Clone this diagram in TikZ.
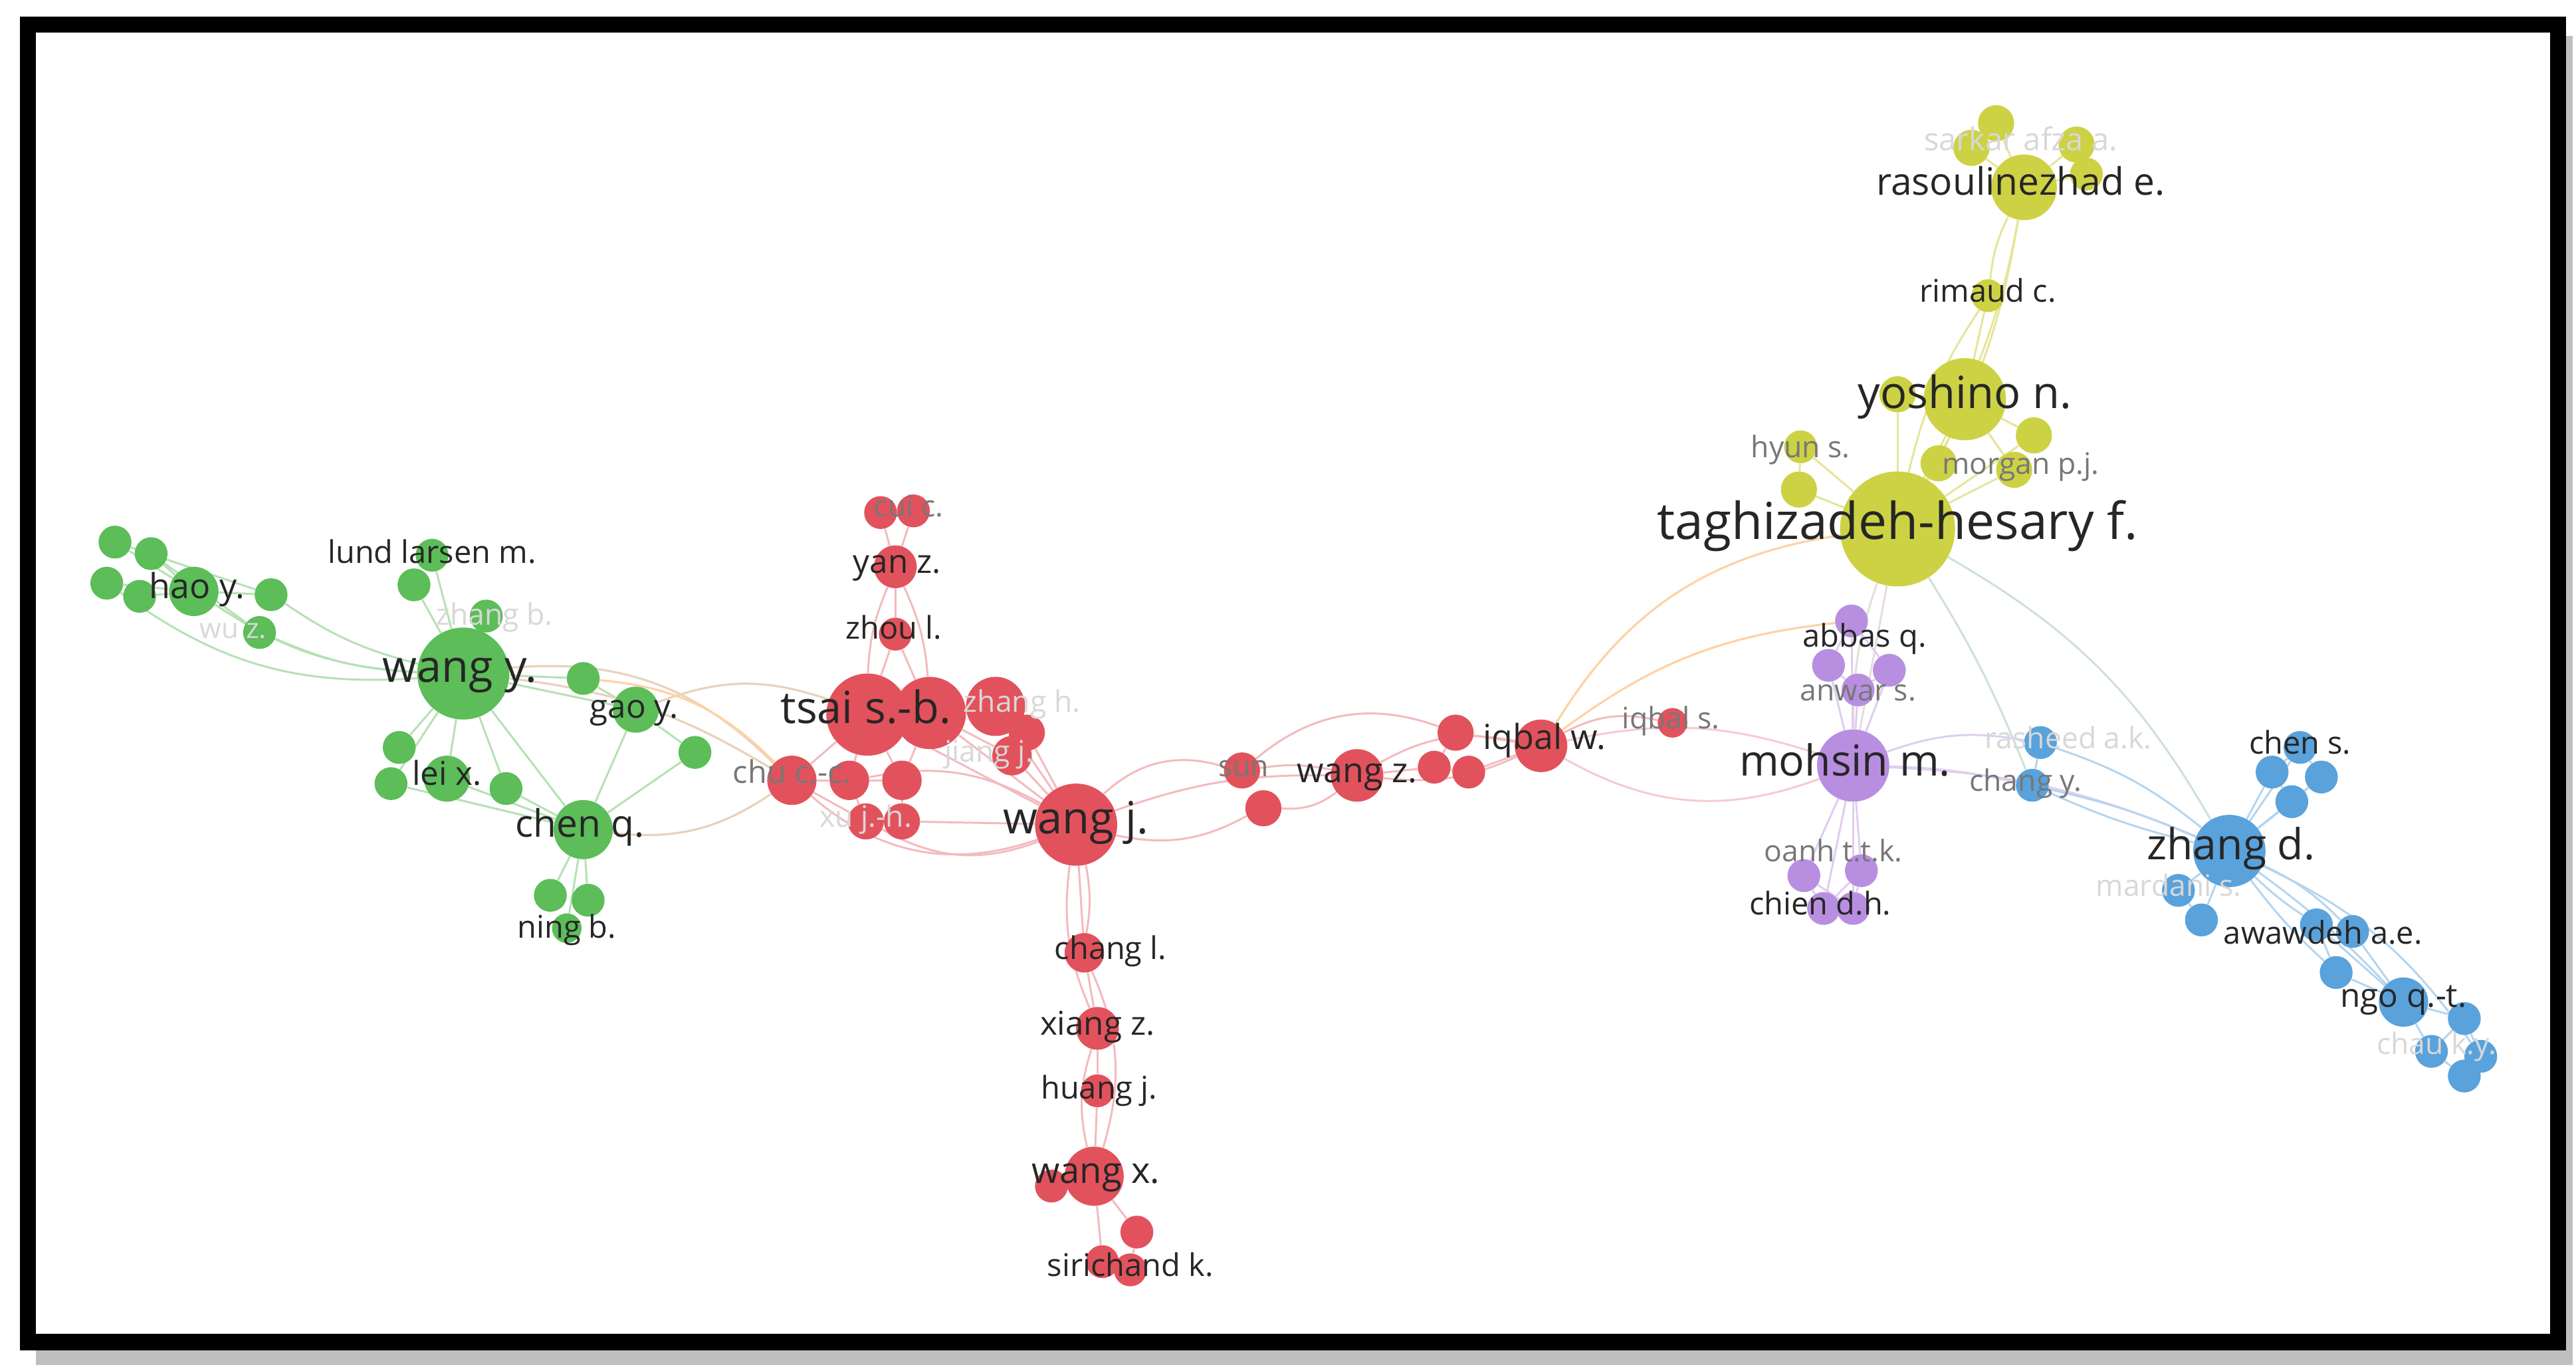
\documentclass[tikz,border=0pt]{standalone}
\usepackage{fontspec}
\setmainfont{Open Sans}
\usetikzlibrary{backgrounds}
\definecolor{cg}{HTML}{5CBD59}
\definecolor{cr}{HTML}{E2525C}
\definecolor{cy}{HTML}{CDD244}
\definecolor{cp}{HTML}{B88FE0}
\definecolor{cb}{HTML}{5AA2DB}
\definecolor{fg}{HTML}{777777}
\definecolor{ff}{HTML}{D8D8D8}
\tikzset{
 dot/.style={circle,inner sep=0pt,draw=none,fill=#1},
 lab/.style={inner sep=0pt,text=black!85},
 grey/.style={lab,text=fg},
 faint/.style={lab,text=ff},
 eg/.style={draw=cg!45,line width=1.2pt},
 er/.style={draw=cr!40,line width=1.2pt},
 ey/.style={draw=cy!55,line width=1.2pt},
 ep/.style={draw=cp!45,line width=1.2pt},
 eb/.style={draw=cb!45,line width=1.2pt},
 eo/.style={draw=orange!35,line width=1.3pt},
 ebr/.style={draw=brown!35,line width=1.3pt},
}
\newcommand\au[5]{\node[dot=#5,minimum size=#4*2pt] (#1) at (#2,#3) {};}
\newcommand\tx[5]{\node[#5,font=\fontsize{#4}{#4}\selectfont] (#1) at (#2,#3) {\strut\smash{#1}};}
\begin{document}
\begin{tikzpicture}[x=1pt,y=-1pt]
\useasboundingbox (0,0) rectangle (1568,833);
\begin{pgfonlayer}{background}
\fill[white] (0,0) rectangle (1568,833);
\fill[black!25] (22,22) rectangle (1566,831);
\draw[line width=10pt,fill=white] (17,15) rectangle (1557,817);
\end{pgfonlayer}
% ---------- nodes
% green
\au{g1}{70}{330}{10}{cg}\au{g2}{92}{337}{10}{cg}\au{g3}{65}{355}{10}{cg}\au{g4}{85}{363}{10}{cg}
\au{haoy}{118}{360}{15}{cg}\au{g5}{165}{362}{10}{cg}\au{wuz}{158}{385}{10}{cg}
\au{lund}{263}{338}{10}{cg}\au{g6}{252}{356}{10}{cg}\au{zhangb}{296}{375}{10}{cg}
\au{wangy}{282}{410}{28}{cg}\au{g7}{355}{413}{10}{cg}\au{gaoy}{387}{432}{14}{cg}\au{g8}{423}{458}{10}{cg}
\au{g9}{243}{455}{10}{cg}\au{g10}{238}{477}{10}{cg}\au{leix}{272}{474}{14}{cg}\au{g11}{308}{480}{10}{cg}
\au{chenq}{355}{505}{18}{cg}\au{g12}{335}{545}{10}{cg}\au{g13}{358}{548}{10}{cg}\au{ningb}{345}{565}{9}{cg}
% red
\au{cui1}{536}{312}{10}{cr}\au{cuic}{556}{311}{10}{cr}\au{yanz}{545}{345}{13}{cr}\au{zhoul}{545}{386}{10}{cr}
\au{tsai}{528}{435}{25}{cr}\au{r1}{566}{434}{22}{cr}\au{zhangh}{606}{430}{18}{cr}\au{r2}{625}{446}{11}{cr}
\au{jiangj}{616}{460}{12}{cr}\au{chucc}{482}{475}{15}{cr}\au{r3}{517}{475}{12}{cr}\au{r4}{549}{475}{12}{cr}
\au{xujh}{527}{500}{11}{cr}\au{r5}{549}{500}{11}{cr}
\au{wangj}{655}{502}{25}{cr}\au{sun}{756}{469}{11}{cr}\au{r6}{769}{492}{11}{cr}\au{wangz}{826}{472}{16}{cr}
\au{r7}{886}{446}{11}{cr}\au{r8}{873}{467}{10}{cr}\au{r9}{894}{470}{10}{cr}\au{iqbalw}{938}{454}{16}{cr}\au{iqbals}{1018}{440}{9}{cr}
\au{changl}{660}{580}{12}{cr}\au{xiangz}{668}{626}{13}{cr}\au{huangj}{668}{664}{10}{cr}\au{wangx}{666}{716}{18}{cr}
\au{r10}{640}{722}{10}{cr}\au{r11}{692}{750}{10}{cr}\au{r12}{671}{768}{10}{cr}\au{sirichand}{688}{773}{10}{cr}
% yellow
\au{y1}{1215}{75}{11}{cy}\au{y2}{1200}{90}{11}{cy}\au{y3}{1264}{88}{11}{cy}\au{y4}{1270}{106}{10}{cy}
\au{raso}{1232}{114}{20}{cy}\au{rimaud}{1210}{180}{10}{cy}
\au{yosh}{1196}{243}{25}{cy}\au{y5}{1155}{240}{11}{cy}\au{y6}{1238}{265}{11}{cy}\au{morgan}{1226}{286}{11}{cy}\au{y7}{1180}{282}{11}{cy}
\au{hyun}{1096}{272}{10}{cy}\au{y8}{1095}{298}{11}{cy}
\au{tagh}{1155}{322}{35}{cy}
% purple
\au{abbas}{1127}{378}{10}{cp}\au{p1}{1113}{405}{10}{cp}\au{p2}{1150}{408}{10}{cp}\au{anwar}{1131}{420}{10}{cp}
\au{mohsin}{1128}{466}{22}{cp}
\au{oanh}{1098}{533}{10}{cp}\au{p3}{1133}{530}{10}{cp}\au{chien}{1110}{553}{10}{cp}\au{p4}{1128}{553}{10}{cp}
% blue
\au{rasheed}{1242}{452}{10}{cb}\au{changy}{1237}{478}{10}{cb}
\au{chens}{1400}{455}{10}{cb}\au{b1}{1383}{470}{10}{cb}\au{b2}{1413}{473}{10}{cb}\au{b3}{1395}{488}{10}{cb}
\au{zhangd}{1357}{518}{22}{cb}\au{mard}{1326}{542}{10}{cb}\au{b4}{1340}{560}{10}{cb}
\au{awa}{1410}{563}{10}{cb}\au{b5}{1432}{567}{10}{cb}\au{b6}{1422}{592}{10}{cb}\au{ngo}{1463}{610}{15}{cb}
\au{b7}{1500}{620}{10}{cb}\au{chau}{1480}{640}{10}{cb}\au{b8}{1510}{643}{10}{cb}\au{b9}{1500}{655}{10}{cb}
% ---------- edges
\begin{pgfonlayer}{background}
\foreach \a/\b in {g1/haoy,g2/haoy,g3/haoy,g4/haoy,g5/haoy,wuz/haoy,g1/g5,g2/wuz,lund/wangy,g6/wangy,zhangb/wangy,g7/wangy,gaoy/wangy,g8/gaoy,g9/wangy,g10/wangy,leix/wangy,g11/wangy,chenq/wangy,leix/chenq,g10/chenq,g11/chenq,g12/chenq,g13/chenq,ningb/chenq,gaoy/chenq,g8/chenq,g7/gaoy}
  \path[eg] (\a) -- (\b);
\path[eg] (haoy) to[bend right=15] (wangy);
\path[eg] (g5) to[bend right=10] (wangy);
\path[eg] (wuz) to[bend right=10] (wangy);
\path[eg] (g3) to[bend right=20] (wangy);
\path[ebr] (wangy) to[bend left=25] (chucc);
\path[ebr] (wangy) to[bend left=12] (chucc);
\path[ebr] (chenq) to[bend right=20] (chucc);
\path[ebr] (gaoy) to[bend left=20] (tsai);
\path[eo] (g7) to[bend left=20] (chucc);
\foreach \a/\b in {cui1/yanz,cuic/yanz,yanz/zhoul,zhoul/tsai,zhoul/r1,tsai/r1,r1/zhangh,zhangh/r2,tsai/chucc,tsai/r3,tsai/r4,r1/r4,r1/jiangj,r3/xujh,r4/r5,chucc/r3,r3/r4,tsai/wangj,r1/wangj,zhangh/wangj,jiangj/wangj,r2/wangj,r5/wangj,wangj/changl,r8/r7,r8/r9,r7/iqbalw,r9/iqbalw,wangz/r8,changl/xiangz,xiangz/huangj,huangj/wangx,wangx/r10,wangx/r11,wangx/r12,r11/sirichand,r12/sirichand,chucc/xujh}
  \path[er] (\a) -- (\b);
\path[er] (yanz) to[bend right=10] (tsai);
\path[er] (yanz) to[bend left=10] (r1);
\path[er] (chucc) to[bend right=30] (wangj);
\path[er] (xujh) to[bend right=25] (wangj);
\path[er] (r3) to[bend left=20] (wangj);
\path[er] (wangj) to[bend left=30] (sun);
\path[er] (wangj) to[bend right=20] (r6);
\path[er] (wangj) to[bend left=10] (wangz);
\path[er] (sun) to[bend left=10] (wangz);
\path[er] (r6) to[bend right=20] (wangz);
\path[er] (sun) to[bend left=30] (r7);
\path[er] (wangz) to[bend left=20] (iqbalw);
\path[er] (wangz) to[bend right=15] (iqbalw);
\path[er] (iqbalw) to[bend left=20] (iqbals);
\path[er] (wangj) to[bend left=10] (changl);
\path[er] (wangj) to[bend right=15] (xiangz);
\path[er] (changl) to[bend left=20] (wangx);
\path[er] (xiangz) to[bend right=15] (wangx);
\path[draw=cr!30,line width=1.2pt] (iqbalw) to[bend right=25] (mohsin);
\path[draw=cr!30,line width=1.2pt] (iqbalw) to[bend left=15] (mohsin);
\path[eo] (iqbalw) to[bend left=25] (tagh);
\path[eo] (iqbalw) to[bend left=15] (abbas);
\foreach \a/\b in {y1/raso,y2/raso,y3/raso,y4/raso,y1/y2,rimaud/yosh,y5/yosh,y6/yosh,morgan/yosh,y7/yosh,yosh/tagh,y5/tagh,y6/tagh,morgan/tagh,y7/tagh,hyun/tagh,y8/tagh,hyun/y8}
  \path[ey] (\a) -- (\b);
\path[ey] (raso) to[bend right=10] (rimaud);
\path[ey] (raso) to[bend left=5] (yosh);
\path[ey] (raso) to[bend left=10] (tagh);
\path[ey] (rimaud) to[bend right=10] (tagh);
\path[draw=cy!40!cb!40,line width=1.2pt] (tagh) to[bend left=15] (zhangd);
\path[draw=cy!40!cb!40,line width=1.2pt] (tagh) to[bend left=5] (changy);
\path[draw=cy!40!cp!40,line width=1.2pt] (tagh) -- (mohsin);
\path[draw=cy!40!cp!40,line width=1.2pt] (tagh) to[bend right=10] (mohsin);
\foreach \a/\b in {abbas/p1,abbas/p2,p1/anwar,p2/anwar,abbas/mohsin,p1/mohsin,p2/mohsin,anwar/mohsin,mohsin/oanh,mohsin/p3,mohsin/chien,mohsin/p4,oanh/p4,p3/chien,oanh/chien,p3/p4}
  \path[ep] (\a) -- (\b);
\path[ep] (mohsin) to[bend left=15] (rasheed);
\path[ep] (mohsin) to[bend left=5] (changy);
\path[ep] (mohsin) to[bend left=10] (zhangd);
\foreach \a/\b in {rasheed/changy,chens/b1,chens/b2,b1/b3,b2/b3,b1/zhangd,b3/zhangd,b2/zhangd,chens/zhangd,mard/zhangd,b4/zhangd,mard/b4,awa/b6,b5/ngo,b6/ngo,awa/ngo,b7/ngo,chau/ngo,b8/b7,b9/chau,b8/b9,chau/b7}
  \path[eb] (\a) -- (\b);
\path[eb] (rasheed) to[bend left=10] (zhangd);
\path[eb] (changy) to[bend left=5] (zhangd);
\path[eb] (changy) to[bend right=5] (zhangd);
\path[eb] (zhangd) to[bend right=5] (awa);
\path[eb] (zhangd) to[bend left=10] (b5);
\path[eb] (zhangd) to[bend left=5] (ngo);
\path[eb] (zhangd) to[bend left=15] (b8);
\path[eb] (zhangd) to[bend right=5] (b6);
\end{pgfonlayer}
% ---------- labels
\tx{hao y.}{120}{360}{21}{lab}
\tx{lund larsen m.}{263}{339}{19}{lab}
\tx{zhang b.}{301}{377}{18}{faint}
\tx{wu z.}{142}{385}{17}{faint}
\tx{wang y.}{280}{410}{27}{lab}
\tx{gao y.}{386}{433}{20}{lab}
\tx{lei x.}{272}{474}{20}{lab}
\tx{chen q.}{353}{505}{23}{lab}
\tx{ning b.}{345}{567}{19}{lab}
\tx{cui c.}{553}{311}{18}{grey}
\tx{yan z.}{546}{345}{20}{lab}
\tx{zhou l.}{544}{385}{19}{lab}
\tx{tsai s.-b.}{527}{435}{27}{lab}
\tx{zhang h.}{622}{430}{18}{faint}
\tx{jiang j.}{602}{460}{18}{faint}
\tx{chu c.-c.}{482}{473}{19}{grey}
\tx{xu j.-h.}{527}{500}{18}{faint}
\tx{wang j.}{655}{502}{27}{lab}
\tx{sun}{757}{469}{18}{grey}
\tx{wang z.}{826}{472}{21}{lab}
\tx{iqbal w.}{940}{452}{21}{lab}
\tx{iqbal s.}{1017}{440}{18}{grey}
\tx{chang l.}{676}{580}{19}{lab}
\tx{xiang z.}{668}{626}{20}{lab}
\tx{huang j.}{669}{665}{19}{lab}
\tx{wang x.}{667}{716}{22}{lab}
\tx{sirichand k.}{688}{773}{19}{lab}
\tx{sarkar afza a.}{1230}{88}{19}{faint}
\tx{rasoulinezhad e.}{1230}{114}{23}{lab}
\tx{rimaud c.}{1210}{180}{19}{lab}
\tx{yoshino n.}{1196}{243}{27}{lab}
\tx{hyun s.}{1096}{275}{18}{grey}
\tx{morgan p.j.}{1230}{285}{18}{grey}
\tx{taghizadeh-hesary f.}{1155}{322}{31}{lab}
\tx{abbas q.}{1135}{390}{19}{lab}
\tx{anwar s.}{1131}{423}{18}{grey}
\tx{mohsin m.}{1123}{467}{26}{lab}
\tx{oanh t.t.k.}{1116}{521}{18}{grey}
\tx{chien d.h.}{1108}{553}{19}{lab}
\tx{rasheed a.k.}{1259}{452}{18}{faint}
\tx{chang y.}{1233}{478}{18}{grey}
\tx{chen s.}{1400}{455}{19}{lab}
\tx{zhang d.}{1358}{518}{26}{lab}
\tx{mardani s.}{1320}{542}{18}{faint}
\tx{awawdeh a.e.}{1414}{571}{19}{lab}
\tx{ngo q.-t.}{1463}{609}{20}{lab}
\tx{chau k.y.}{1483}{638}{18}{faint}
\end{tikzpicture}
\end{document}
